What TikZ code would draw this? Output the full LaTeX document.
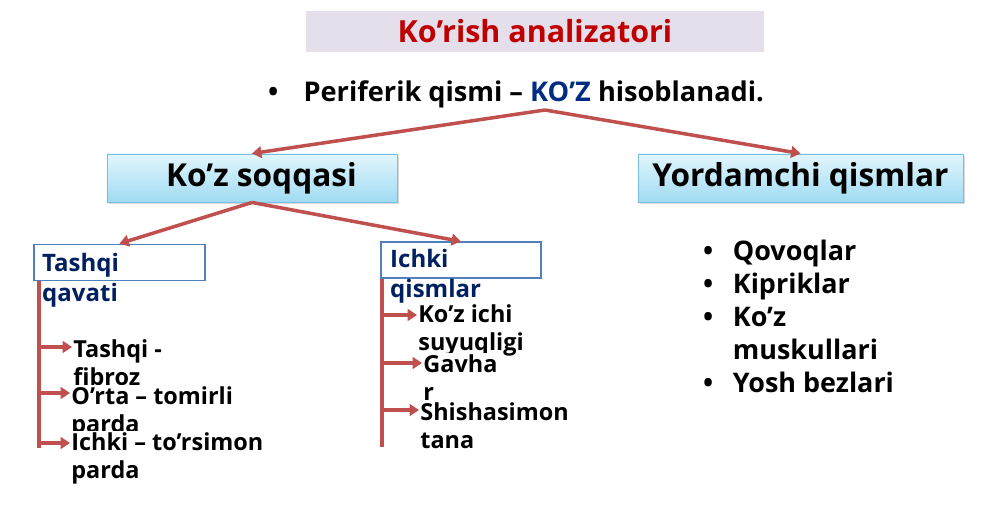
\documentclass[tikz,border=0pt]{standalone}
\usepackage{fontspec}
\setmainfont{Open Sans}
\usetikzlibrary{arrows.meta,positioning,shadows}
\definecolor{bandgray}{RGB}{228,223,234}
\definecolor{titlered}{RGB}{192,0,0}
\definecolor{kozblue}{RGB}{0,45,130}
\definecolor{navy}{RGB}{0,32,96}
\definecolor{linered}{RGB}{192,80,77}
\definecolor{catedge}{RGB}{79,129,189}
\definecolor{headtop}{RGB}{226,246,253}
\definecolor{headbot}{RGB}{160,219,242}
\definecolor{headedge}{RGB}{120,190,222}
\newcommand{\bul}[1]{\makebox[#1][l]{•}}

\begin{document}
\begin{tikzpicture}[x=0.03cm, y=-0.03cm,
  headbox/.style={draw=headedge, line width=0.8pt, top color=headtop, bottom color=headbot,
               minimum height=1.44cm, font=\fontsize{27}{30}\selectfont\bfseries,
               drop shadow={opacity=0.3, shadow xshift=1.5pt, shadow yshift=-1.5pt}},
  catbox/.style={draw=catedge, line width=1pt, fill=white, minimum height=1.1cm},
  catlabel/.style={anchor=base west, align=left, text=navy, inner sep=0pt,
               font=\fontsize{20.5}{25}\selectfont\bfseries},
  leaf/.style={anchor=base west, align=left, fill=white, inner sep=1pt,
               font=\fontsize{20}{23.5}\selectfont\bfseries},
  link/.style={line width=3pt, linered},
  arr/.style={link, -{Triangle[length=8pt, width=10pt]}}]
\useasboundingbox (0,0) rectangle (1000,510);
% title and lead line
\node[fill=bandgray, text=titlered, minimum width=13.74cm, minimum height=1.23cm,
      font=\fontsize{26}{30}\selectfont\bfseries] (title) at (535,31.5) {Ko’rish analizatori};
\node[anchor=base west, inner sep=0pt, font=\fontsize{23.2}{27}\selectfont\bfseries]
      (lead) at (268,102) {\bul{1.3em}Periferik qismi – \textcolor{kozblue}{KO’Z} hisoblanadi.};
\coordinate (apex) at (545,110);
% main parts
\node[headbox, minimum width=8.7cm] (soqqa) at (252,178) {\hspace*{0.6em}Ko’z soqqasi};
\node[headbox, minimum width=9.75cm] (yordam) at (800.5,178) {Yordamchi qismlar};
\draw[arr] (apex) -- (soqqa.north);
\draw[arr] (apex) -- (yordam.north);
% eyeball layers
\node[catbox, minimum width=5.13cm] (tashqi) at (119.5,262.5) {};
\node[catbox, minimum width=4.8cm, minimum height=1.08cm] (ichki) at (461,260) {};
\draw[arr] (soqqa.south) -- (tashqi.north);
\draw[arr] (soqqa.south) -- (ichki.north);
\node[catlabel] (tashqiT) at (42,301) {Tashqi\\qavati};
\node[catlabel] (ichkiT) at (390,297) {Ichki\\qismlar};
\node[leaf] (fibroz) at (72,385) {Tashqi -\\fibroz};
\node[leaf] (tomir) at (70,432) {O’rta – tomirli\\parda};
\node[leaf] (tor) at (70,478) {Ichki – to’rsimon\\parda};
\node[leaf] (suyuq) at (417,350) {Ko’z ichi\\suyuqligi};
\node[leaf] (gavhar) at (422,400) {Gavha\\r};
\node[leaf] (shisha) at (419,448) {Shishasimon\\tana};
\coordinate (tend) at (39,448);
\coordinate (iend) at (382,447);
\draw[link] (tashqi.south -| tend) -- (tend);
\draw[link] (ichki.south -| iend) -- (iend);
\foreach \n/\y in {fibroz/347, tomir/393, tor/443} {
  \coordinate (p) at (39,\y);
  \draw[arr] (p) -- (p -| \n.west);
}
\foreach \n/\y in {suyuq/315, gavhar/363, shisha/410} {
  \coordinate (p) at (382,\y);
  \draw[arr] (p) -- (p -| \n.west);
}
% helper parts
\node[anchor=base west, align=left, inner sep=0pt, font=\fontsize{23}{28}\selectfont\bfseries]
      (parts) at (703,392) {\bul{1.1em}Qovoqlar\\\bul{1.1em}Kipriklar\\\bul{1.1em}Ko’z\\
      \hspace*{1.1em}muskullari\\\bul{1.1em}Yosh bezlari};
\end{tikzpicture}
\end{document}
